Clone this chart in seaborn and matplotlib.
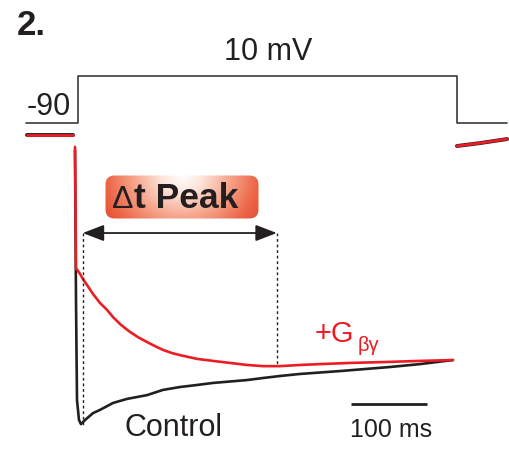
import numpy as np
import pandas as pd
import matplotlib
matplotlib.use("Agg")
import matplotlib.pyplot as plt
import seaborn as sns
from matplotlib.patches import FancyBboxPatch
from matplotlib.colors import LinearSegmentedColormap

# ---- data ----
# voltage step protocol (ms, mV)
v_time = [-68, 0, 0, 499, 499, 565]
v_mV = [-90, -90, 10, 10, -90, -90]

# currents normalised to the control peak
pre_time = [-67, -6]
pre_I = [0.0, 0.0]

ctrl_time = [-3.55, -2.24, -0.92, 1.71, 4.34, 9.61, 20.1, 29.3, 46.5, 64.9, 91.2, 112.2, 134.6,
             157.0, 178.0, 200.4, 222.8, 243.8, 266.2, 292.5, 318.8, 345.1, 378.0, 410.9, 450.4, 493.8]
ctrl_I = [-0.052, -0.569, -0.914, -0.983, -0.997, -0.983, -0.959, -0.948, -0.924, -0.910, -0.897,
          -0.879, -0.869, -0.862, -0.855, -0.850, -0.845, -0.838, -0.831, -0.824, -0.819, -0.814,
          -0.807, -0.800, -0.790, -0.776]

gbg_time = [-3.55, -2.89, -2.24, 0.39, 3.03, 6.97, 12.2, 20.1, 29.3, 38.6, 46.5, 57.0, 68.8, 79.3,
            91.2, 101.7, 112.2, 124.1, 134.6, 157.0, 178.0, 200.4, 222.8, 243.8, 266.2, 292.5,
            318.8, 358.3, 401.7, 450.4, 493.8]
gbg_I = [-0.041, -0.224, -0.459, -0.469, -0.479, -0.497, -0.517, -0.548, -0.579, -0.603, -0.628,
         -0.655, -0.679, -0.697, -0.714, -0.728, -0.741, -0.752, -0.759, -0.772, -0.779, -0.786,
         -0.793, -0.797, -0.797, -0.793, -0.790, -0.786, -0.783, -0.779, -0.776]

tail_time = [499, 529, 565]
tail_I = [-0.038, -0.028, -0.014]

peak_time = [6.6, 262]      # control, +Gbg
peak_I = [-1.007, -0.797]
arrow_I = -0.338

scalebar_start = 360
scalebar_ms = 100

RED = "#ec1c24"
INK = "#231f20"


def lims(v1, f1, v2, f2):
    # axis limits so that value v1 sits at figure fraction f1 and v2 at f2
    k = (v2 - v1) / (f2 - f1)
    lo = v1 - f1 * k
    return lo, lo + k


sns.set_style("white")
plt.rcParams["font.family"] = ["Liberation Sans", "DejaVu Sans"]

fig = plt.figure(figsize=(5.09, 4.5), dpi=100)
ax = fig.add_axes([0, 0, 1, 1])
axv = fig.add_axes([0, 0, 1, 1], sharex=ax)
for a in (ax, axv):
    a.set_axis_off()
    a.patch.set_alpha(0)

# x: step onset at px 77.7, 0.76 px per ms
ax.set_xlim(-77.7 / 0.76, (509 - 77.7) / 0.76)
ax.set_ylim(*lims(0, 1 - 135 / 450, -1, 1 - 425 / 450))
axv.set_ylim(*lims(-90, 1 - 123.3 / 450, 10, 1 - 76 / 450))

# voltage protocol
sns.lineplot(x=v_time, y=v_mV, ax=axv, color="#3a3a3a", lw=1.2, sort=False, estimator=None)
axv.text(-9.2, -72.5, "-90", ha="right", va="baseline", fontsize=22, color=INK)
axv.text(250, 43.8, "10 mV", ha="center", va="baseline", fontsize=22, color=INK)

# current traces
for t, i in [(pre_time, pre_I), (tail_time, tail_I)]:
    sns.lineplot(x=t, y=i, ax=ax, color=INK, lw=2.8, sort=False, estimator=None)
    sns.lineplot(x=t, y=i, ax=ax, color=RED, lw=2.0, sort=False, estimator=None)

ctrl = pd.DataFrame({"t": ctrl_time, "I": ctrl_I})
gbg = pd.DataFrame({"t": gbg_time, "I": gbg_I})
sns.lineplot(data=ctrl, x="t", y="I", ax=ax, color=INK, lw=1.9, sort=False, estimator=None)
sns.lineplot(data=gbg, x="t", y="I", ax=ax, color=RED, lw=1.9, sort=False, estimator=None)

# peak markers
for t, i in zip(peak_time, peak_I):
    ax.plot([t, t], [arrow_I, i], color=INK, lw=1.0, ls=(0, (2, 2)))
ax.annotate("", xy=(peak_time[1], arrow_I), xytext=(peak_time[0], arrow_I),
            arrowprops=dict(arrowstyle="<|-|>,head_length=0.65,head_width=0.25",
                            color=INK, lw=1.3, shrinkA=0, shrinkB=0, mutation_scale=20))

# labels
ax.text(62.2, -1.038, "Control", ha="left", va="baseline", fontsize=22, color=INK)
ax.text(312.2, -0.713, "+G", ha="left", va="baseline", fontsize=21, color=RED)
ax.text(368, -0.745, "βγ", ha="left", va="baseline", fontsize=14.5, color=RED)

# scale bar
ax.plot([scalebar_start, scalebar_start + scalebar_ms], [-0.928, -0.928], color=INK, lw=2.0,
        solid_capstyle="butt")
ax.text(scalebar_start + scalebar_ms / 2 + 2, -1.041, f"{scalebar_ms} ms", ha="center",
        va="baseline", fontsize=18, color=INK)

fig.text(16.7 / 509, 1 - 35 / 450, "2.", ha="left", va="baseline", fontsize=25,
         fontweight="bold", color=INK)

# "Δt Peak" badge with a soft radial gradient
bx, by, bw, bh = 105, 175, 154, 44
axb = fig.add_axes([bx / 509, 1 - (by + bh) / 450, bw / 509, bh / 450])
axb.set_xlim(0, bw)
axb.set_ylim(0, bh)
axb.set_axis_off()
axb.patch.set_alpha(0)
badge = FancyBboxPatch((0.5, 0.5), bw - 1, bh - 1, boxstyle="round,pad=0,rounding_size=9",
                       facecolor="none", edgecolor="none")
axb.add_patch(badge)
gx, gy = np.meshgrid(np.linspace(0, bw, 200), np.linspace(0, bh, 80))
d = np.sqrt(((gx - bw * 0.5) / (bw * 0.62)) ** 2 + ((gy - bh) / (bh * 1.9)) ** 2)
cmap = LinearSegmentedColormap.from_list(
    "badge", [(0, "#ffffff"), (0.22, "#fde3d9"), (0.5, "#f6a68c"), (0.8, "#ec6446"),
              (1, "#e54a2f")])
img = axb.imshow(np.clip(d, 0, 1), cmap=cmap, vmin=0, vmax=1, origin="lower",
                 extent=(0, bw, 0, bh), aspect="auto", interpolation="bilinear")
img.set_clip_path(badge)
axb.text(28.5, 11, "Δ", ha="right", va="baseline", fontsize=23, color=INK)
axb.text(29, 11, "t Peak", ha="left", va="baseline", fontsize=25.5, fontweight="bold", color=INK)

fig.savefig("out.png", dpi=100)
